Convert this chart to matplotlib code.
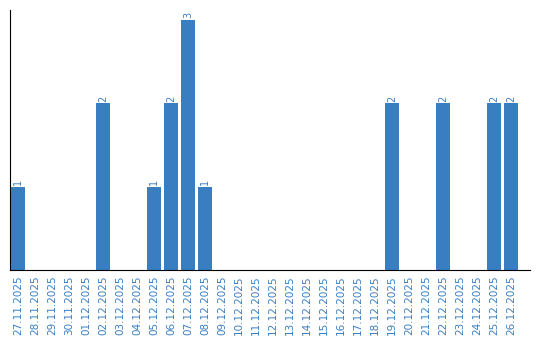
import matplotlib
matplotlib.use("Agg")
import matplotlib.pyplot as plt

dates = ["27.11.2025", "28.11.2025", "29.11.2025", "30.11.2025", "01.12.2025",
         "02.12.2025", "03.12.2025", "04.12.2025", "05.12.2025", "06.12.2025",
         "07.12.2025", "08.12.2025", "09.12.2025", "10.12.2025", "11.12.2025",
         "12.12.2025", "13.12.2025", "14.12.2025", "15.12.2025", "16.12.2025",
         "17.12.2025", "18.12.2025", "19.12.2025", "20.12.2025", "21.12.2025",
         "22.12.2025", "23.12.2025", "24.12.2025", "25.12.2025", "26.12.2025"]
counts = [1, 0, 0, 0, 0, 2, 0, 0, 1, 2, 3, 1, 0, 0, 0,
          0, 0, 0, 0, 0, 0, 0, 2, 0, 0, 2, 0, 0, 2, 2]

blue = "#3a7ec2"

fig = plt.figure(figsize=(5.4, 3.4), dpi=100)
ax = fig.add_axes([10 / 540, 70 / 340, 520 / 540, 260 / 340])

x = list(range(len(dates)))
ax.bar(x, counts, width=0.82, color=blue)

for xi, v in zip(x, counts):
    if v > 0:
        ax.text(xi, v + 0.02, str(v), rotation=90, ha="center", va="bottom",
                color=blue, fontsize=7)

ax.set_xlim(-0.47, 30.12)
ax.set_ylim(0, 3.12)
ax.set_xticks(x)
ax.set_xticklabels(dates, rotation=90, color=blue, fontsize=7.5)
ax.tick_params(axis="x", length=0, pad=4)
ax.set_yticks([])
ax.spines["top"].set_visible(False)
ax.spines["right"].set_visible(False)

fig.savefig("out.png", dpi=100)
